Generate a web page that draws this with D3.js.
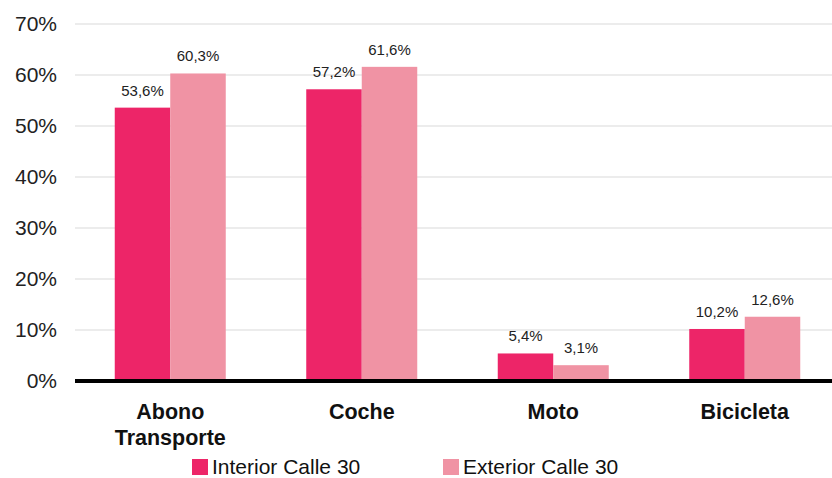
<!DOCTYPE html>
<html><head><meta charset="utf-8">
<script src="https://cdn.jsdelivr.net/npm/d3@7"></script>
<style>body{margin:0;background:#fff;font-family:"Liberation Sans",Arial,sans-serif;}</style>
</head><body><svg id="c" width="832" height="478"></svg>
<script>
const categories = [["Abono","Transporte"],["Coche"],["Moto"],["Bicicleta"]];
const seriesNames = ["Interior Calle 30","Exterior Calle 30"];
const interior = [53.6, 57.2, 5.4, 10.2];
const exterior = [60.3, 61.6, 3.1, 12.6];
const yTicks = [0,10,20,30,40,50,60,70];
const colors = ["#ED2568","#F093A4"];

const svg = d3.select("#c");
const x0 = d3.scaleBand().domain(d3.range(categories.length)).range([74.5, 840.5]).paddingInner(0).paddingOuter(0);
const x1 = d3.scaleBand().domain([0,1]).range([0, 111]);
const y = d3.scaleLinear().domain([0,70]).range([381, 24]);

svg.append("g").selectAll("line").data(yTicks.filter(d=>d>0)).join("line")
  .attr("x1",75).attr("x2",832).attr("y1",d=>y(d)).attr("y2",d=>y(d))
  .attr("stroke","#d9d9d9").attr("stroke-width",1);

const yAxis = d3.axisLeft(y).tickValues(yTicks).tickFormat(d=>d+"%").tickSize(0).tickPadding(0);
const ya = svg.append("g").attr("transform","translate(57,0)").call(yAxis);
ya.select(".domain").remove();
ya.selectAll("text").attr("font-size",21).attr("fill","#222").attr("font-family","Liberation Sans, Arial, sans-serif");

const data = [interior, exterior];
const g = svg.append("g");
data.forEach((vals, s) => {
  vals.forEach((v, i) => {
    const bx = x0(i) + x0.bandwidth()/2 - 55.5 + x1(s);
    g.append("rect").attr("x", bx).attr("y", y(v)).attr("width", x1.bandwidth()).attr("height", y(0)-y(v)).attr("fill", colors[s]);
    g.append("text").attr("x", bx + x1.bandwidth()/2).attr("y", y(v)-12)
      .attr("text-anchor","middle").attr("font-size",15).attr("fill","#222")
      .text(v.toFixed(1).replace(".",",")+"%");
  });
});

svg.append("line").attr("x1",75).attr("x2",832).attr("y1",y(0)).attr("y2",y(0)).attr("stroke","#000").attr("stroke-width",4);

categories.forEach((lines,i)=>{
  const cx = x0(i)+x0.bandwidth()/2;
  const t = svg.append("text").attr("x", cx).attr("y",419)
    .attr("text-anchor","middle").attr("font-size",21.5).attr("font-weight","bold").attr("fill","#111");
  lines.forEach((l,j)=>t.append("tspan").attr("x", cx).attr("dy", j?26:0).text(l));
});

const legX = [192, 443];
seriesNames.forEach((n,s)=>{
  svg.append("rect").attr("x",legX[s]).attr("y",459).attr("width",16).attr("height",16).attr("fill",colors[s]);
  svg.append("text").attr("x",legX[s]+20).attr("y",474).attr("font-size",21).attr("fill","#111").text(n);
});
</script></body></html>
